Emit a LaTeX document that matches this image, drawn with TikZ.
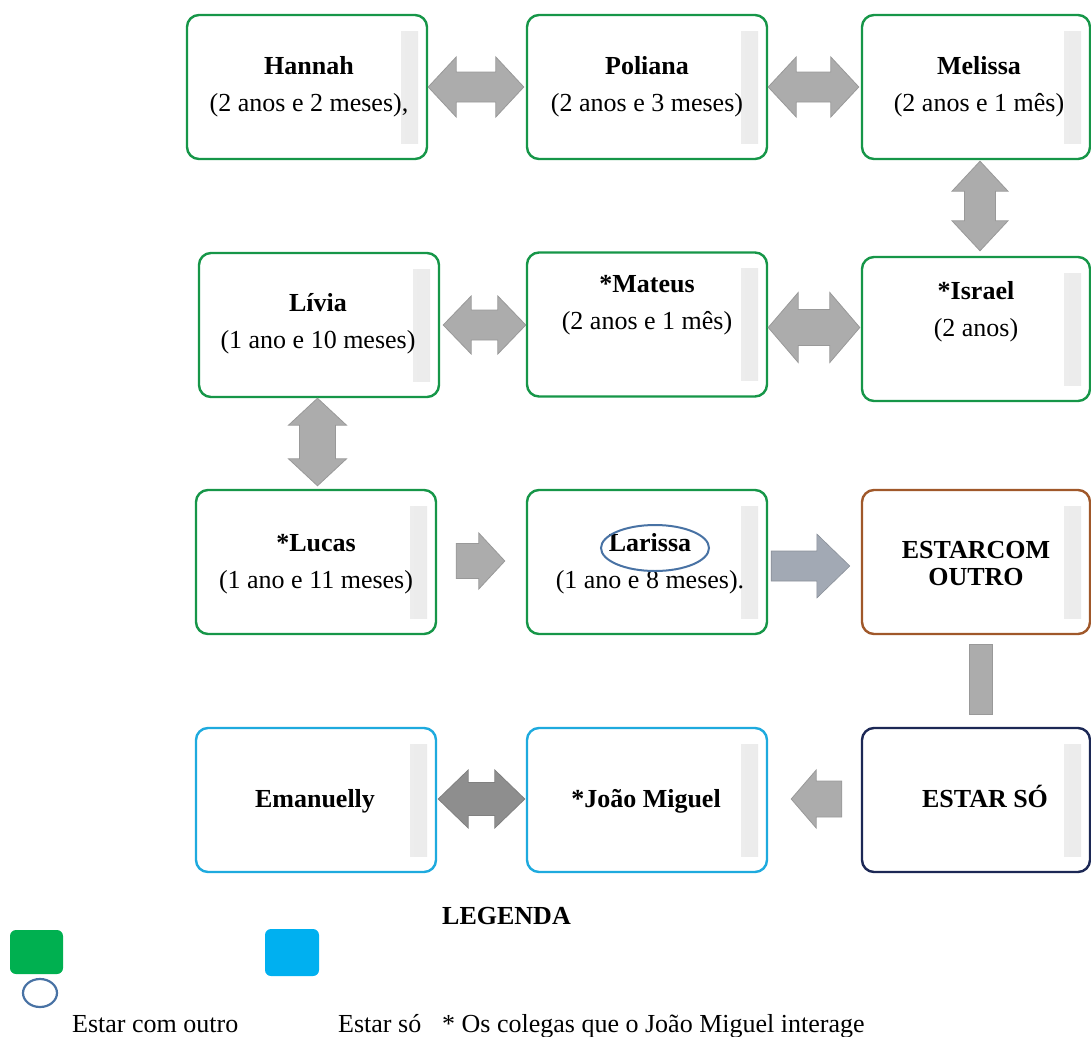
\documentclass[tikz,border=0pt]{standalone}
\usepackage{fontspec}
\setmainfont{Liberation Serif}
\usetikzlibrary{calc}

\definecolor{bxgreen}{RGB}{22,150,72}
\definecolor{bxcyan}{RGB}{30,170,222}
\definecolor{bxbrown}{RGB}{160,88,42}
\definecolor{bxnavy}{RGB}{28,40,85}
\definecolor{arrgray}{RGB}{172,172,172}
\definecolor{arrdark}{RGB}{142,142,142}
\definecolor{arrblue}{RGB}{162,169,180}
\definecolor{ringblue}{RGB}{72,114,164}
\definecolor{keygreen}{RGB}{0,176,80}
\definecolor{keyblue}{RGB}{0,176,240}

\tikzset{
  card/.style={draw=#1, line width=2.4pt, rounded corners=12pt, fill=white,
    minimum width=240pt, minimum height=144pt, inner sep=0pt,
    path picture={\shade[sharp corners, left color=white, right color=black!8]
      ([xshift=-26pt,yshift=-16pt]path picture bounding box.north east) rectangle
      ([xshift=-9pt,yshift=16pt]path picture bounding box.south east);}},
  edgecard/.style={card=#1, minimum width=228pt},
  txt/.style={font=\fontsize{26}{37}\selectfont, align=center, inner sep=0pt},
  blk/.style={fill=arrgray, draw=black!40, line width=0.8pt},
  blkdark/.style={fill=arrdark, draw=black!50, line width=0.8pt},
  blkblue/.style={fill=arrblue, draw=arrblue!85!black, line width=0.6pt},
  ring/.style={draw=ringblue, line width=2pt}
}

% horizontal two-headed block arrow: style, left end, right end, half shaft, half head, head length
\newcommand\hboth[6]{%
  \path[#1] let \p1=#2, \p2=#3 in
    (\x1,\y1) -- (\x1+#6pt,\y1+#5pt) -- (\x1+#6pt,\y1+#4pt) -- (\x2-#6pt,\y1+#4pt)
    -- (\x2-#6pt,\y1+#5pt) -- (\x2,\y1) -- (\x2-#6pt,\y1-#5pt) -- (\x2-#6pt,\y1-#4pt)
    -- (\x1+#6pt,\y1-#4pt) -- (\x1+#6pt,\y1-#5pt) -- cycle;}
% vertical two-headed block arrow: style, top end, bottom end, half shaft, half head, head length
\newcommand\vboth[6]{%
  \path[#1] let \p1=#2, \p2=#3 in
    (\x1,\y1) -- (\x1+#5pt,\y1-#6pt) -- (\x1+#4pt,\y1-#6pt) -- (\x1+#4pt,\y2+#6pt)
    -- (\x1+#5pt,\y2+#6pt) -- (\x1,\y2) -- (\x1-#5pt,\y2+#6pt) -- (\x1-#4pt,\y2+#6pt)
    -- (\x1-#4pt,\y1-#6pt) -- (\x1-#5pt,\y1-#6pt) -- cycle;}
% block arrow pointing right: style, tail, tip, half shaft, half head, head length
\newcommand\hright[6]{%
  \path[#1] let \p1=#2, \p2=#3 in
    (\x1,\y1+#4pt) -- (\x2-#6pt,\y1+#4pt) -- (\x2-#6pt,\y1+#5pt) -- (\x2,\y1)
    -- (\x2-#6pt,\y1-#5pt) -- (\x2-#6pt,\y1-#4pt) -- (\x1,\y1-#4pt) -- cycle;}
% block arrow pointing left: style, tip, tail, half shaft, half head, head length
\newcommand\hleft[6]{%
  \path[#1] let \p1=#2, \p2=#3 in
    (\x1,\y1) -- (\x1+#6pt,\y1+#5pt) -- (\x1+#6pt,\y1+#4pt) -- (\x2,\y1+#4pt)
    -- (\x2,\y1-#4pt) -- (\x1+#6pt,\y1-#4pt) -- (\x1+#6pt,\y1-#5pt) -- cycle;}

\begin{document}
\begin{tikzpicture}[x=1pt, y=-1pt]
\useasboundingbox (0,0) rectangle (1091,1036);

% ---- cards ----
\node[card=bxgreen] (hannah) at (307,87) {};
\node[card=bxgreen] (poliana) at (647,87) {};
\node[edgecard=bxgreen] (melissa) at (976,87) {};

\node[card=bxgreen] (livia) at (319,325) {};
\node[card=bxgreen] (mateus) at (647,324.5) {};
\node[edgecard=bxgreen] (israel) at (976,329) {};

\node[card=bxgreen] (lucas) at (316,562) {};
\node[card=bxgreen] (larissa) at (647,562) {};
\node[edgecard=bxbrown] (estarcom) at (976,562) {};

\node[card=bxcyan] (emanuelly) at (316,800) {};
\node[card=bxcyan] (joao) at (647,800) {};
\node[edgecard=bxnavy] (estarso) at (976,800) {};

% ---- card texts ----
\node[txt] (hannahT) at (309,87) {\textbf{Hannah}\\(2 anos e 2 meses),};
\node[txt] (polianaT) at (647,87) {\textbf{Poliana}\\(2 anos e 3 meses)};
\node[txt] (melissaT) at (979,87) {\textbf{Melissa}\\(2 anos e 1 mês)};

\node[txt] (liviaT) at (318,324) {\textbf{Lívia}\\(1 ano e 10 meses)};
\node[txt] (mateusT) at (647,305) {\textbf{*Mateus}\\(2 anos e 1 mês)};
\node[txt] (israelT) at (976,312) {\textbf{*Israel}\\(2 anos)};

\node[txt] (lucasT) at (316,564) {\textbf{*Lucas}\\(1 ano e 11 meses)};
\node[txt] (larissaT) at (650,564) {\textbf{Larissa}\\(1 ano e 8 meses).};
\node[txt, font=\fontsize{26}{27}\selectfont\bfseries] (estarcomT) at (976,564) {ESTARCOM\\OUTRO};

\node[txt, anchor=base] (emanuellyT) at (315,807) {\textbf{Emanuelly}};
\node[txt, anchor=base] (joaoT) at (646,807) {\textbf{*João Miguel}};
\node[txt, anchor=base] (estarsoT) at (985,807) {\textbf{ESTAR SÓ}};

% ring around the highlighted name
\draw[ring] ($(larissa.center)+(8,-14)$) ellipse [x radius=54, y radius=23];

% ---- block connectors ----
\hboth{blk}{(hannah.east)}{($(poliana.west)+(-2,0)$)}{15}{30}{28}
\hboth{blk}{(poliana.east)}{($(melissa.west)+(-2,0)$)}{15}{30}{28}
\vboth{blk}{($(melissa.south)+(4,1)$)}{($(israel.north)+(4,-5)$)}{15.5}{28}{30}
\hboth{blk}{($(livia.east)+(3,0)$)}{(mateus.west)}{15}{29}{28}
\hboth{blk}{($(mateus.east)+(0,3)$)}{($(israel.west)+(-1,0)$)}{18}{35}{30}
\vboth{blk}{($(livia.south)+(-1.5,0)$)}{($(lucas.north)+(0,-3)$)}{18}{29}{27}
\hright{blk}{($(lucas.east)+(19,-1)$)}{($(larissa.west)+(-21,0)$)}{17.5}{28}{26}
\hright{blkblue}{($(larissa.east)+(3,4)$)}{($(estarcom.west)+(-11,0)$)}{15}{32}{33}
\path[blk] ($(estarcom.south)+(-7,9)$) rectangle ($(estarso.north)+(16,-12)$);
\hleft{blk}{($(joao.east)+(23,-1)$)}{($(estarso.west)+(-19,0)$)}{18}{29}{25}
\hboth{blkdark}{($(emanuelly.east)+(1,-1)$)}{($(joao.west)+(-1,0)$)}{16.5}{29}{30}

% ---- legend ----
\node[txt, anchor=base, font=\fontsize{26}{37}\selectfont\bfseries] (legtitle) at (506.5,924) {LEGENDA};
\path[fill=keygreen, rounded corners=6pt] (10,930) rectangle (63,974);
\path[fill=keyblue, rounded corners=6pt] (265,929) rectangle (319,976);
\draw[ring, line width=2.2pt] (40,993) ellipse [x radius=17, y radius=14];
\node[txt, anchor=base west] (legwith) at (72,1032) {Estar com outro};
\node[txt, anchor=base west] (legalone) at (338,1032) {Estar só};
\node[txt, anchor=base west] (legnote) at (442,1032) {* Os colegas que o João Miguel interage};
\end{tikzpicture}
\end{document}
